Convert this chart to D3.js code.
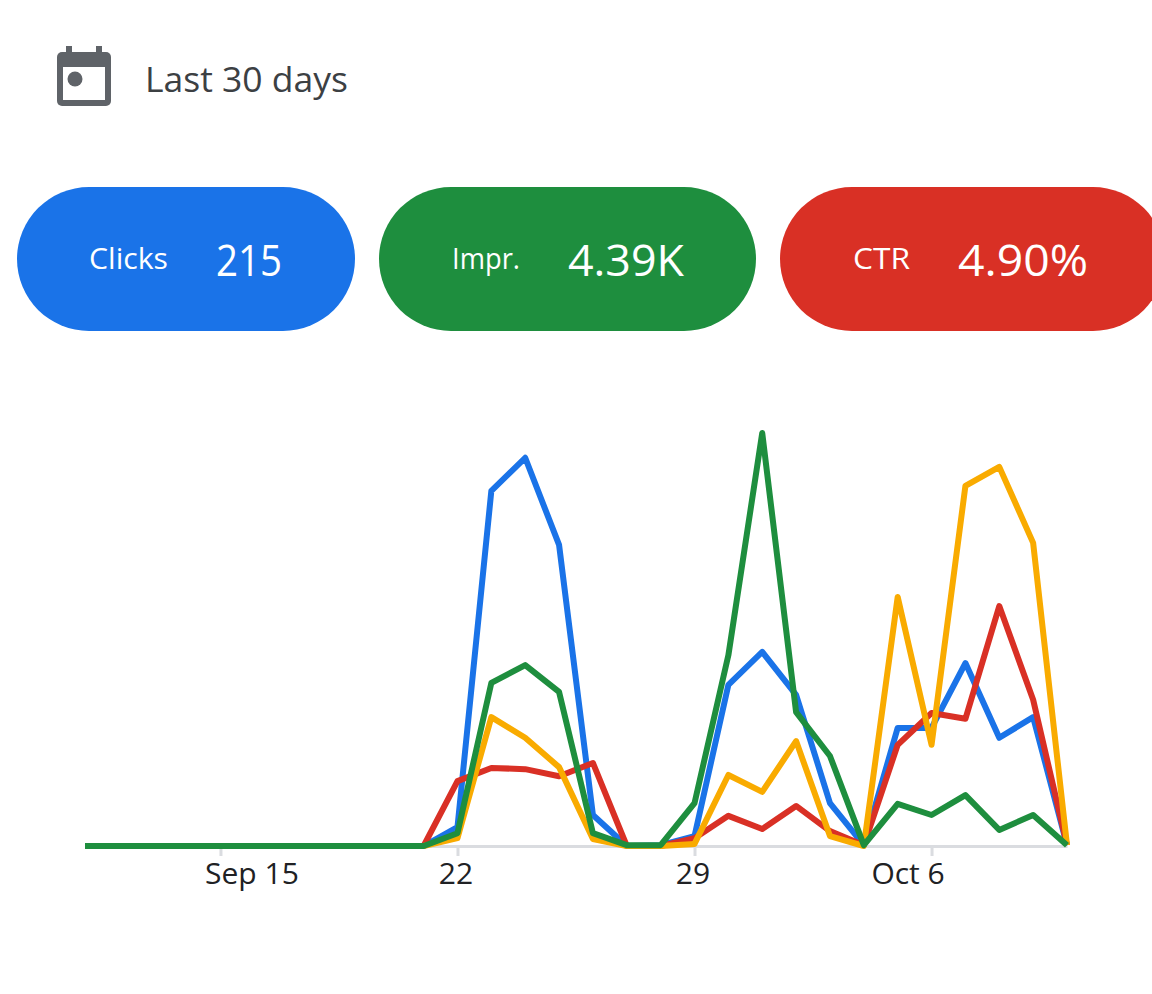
<!DOCTYPE html>
<html>
<head>
<meta charset="utf-8">
<script src="https://cdn.jsdelivr.net/npm/d3@7"></script>
<style>
  html, body { margin: 0; padding: 0; background: #fff; overflow: hidden; }
  text { font-family: "Open Sans", sans-serif; }
  .axis text { font-size: 30px; fill: #202124; }
</style>
</head>
<body>
<svg id="chart" width="1152" height="994"></svg>
<script>
// data (percent of the tallest peak)
var periodLabel = "Last 30 days";
var metricNames = ["Clicks", "Impr.", "CTR"];
var metricValues = ["215", "4.39K", "4.90%"];
var metricColors = ["#1a73e8", "#1e8e3e", "#d93025"];

var zeros = [0, 0, 0, 0, 0, 0, 0, 0, 0, 0];  // Sep 11 - Sep 20
var clicks = zeros.concat([0, 4.6, 86, 94, 72.9, 7.5, 0, 0.2, 2.4, 39, 47, 36.6, 10.4, 0.2, 28.6, 28.6, 44.3, 26.2, 31.2, 0.2]);
var ctr = zeros.concat([0, 15.7, 18.9, 18.6, 16.9, 20.1, 0, 0, 1.9, 7.3, 4.1, 9.7, 3.6, 0.2, 24.5, 32.2, 30.8, 58.1, 35.4, 0.2]);
var position = zeros.concat([0, 1.9, 31.2, 26.2, 19.1, 1.7, 0, 0, 0.5, 17.2, 13.1, 25.4, 2.4, 0, 60.3, 24.5, 87.2, 91.8, 73.4, 0.2]);
var impressions = zeros.concat([0, 3.1, 39.5, 43.8, 37.3, 3.1, 0.2, 0.2, 10.4, 46.2, 100, 32.4, 21.8, 0.2, 10.2, 7.5, 12.3, 3.9, 7.5, 0.2]);

var tickDates = [new Date(2024, 8, 15), new Date(2024, 8, 22), new Date(2024, 8, 29), new Date(2024, 9, 6)];
var tickLabels = ["Sep 15", "22", "29", "Oct 6"];

var svg = d3.select("#chart");

// calendar icon + period label
var icon = svg.append("g").attr("fill", "#5f6368");
icon.append("rect").attr("x", 57).attr("y", 52).attr("width", 54).attr("height", 54).attr("rx", 5);
icon.append("rect").attr("x", 66).attr("y", 46).attr("width", 6).attr("height", 8);
icon.append("rect").attr("x", 96).attr("y", 46).attr("width", 6).attr("height", 8);
icon.append("rect").attr("x", 63).attr("y", 67).attr("width", 42).attr("height", 33).attr("fill", "#fff");
icon.append("circle").attr("cx", 75).attr("cy", 79).attr("r", 7.5);

svg.append("text")
  .attr("x", 145).attr("y", 92)
  .attr("font-size", 34).attr("fill", "#3c4043")
  .attr("textLength", 203).attr("lengthAdjust", "spacingAndGlyphs")
  .text(periodLabel);

// metric pills
var pillLeft = [17, 379, 780];
var pillWidth = [338, 377, 385];
var nameX = [89, 452, 853];
var valueX = [216, 568, 958];
var nameWidth = [79, 68, 57];
var valueWidth = [66, 116, 130];

metricNames.forEach((name, i) => {
  svg.append("rect")
    .attr("x", pillLeft[i]).attr("y", 187)
    .attr("width", pillWidth[i]).attr("height", 144)
    .attr("rx", 72)
    .attr("fill", metricColors[i]);
  svg.append("text")
    .attr("x", nameX[i]).attr("y", 269)
    .attr("font-size", 29).attr("fill", "#fff")
    .attr("textLength", nameWidth[i]).attr("lengthAdjust", "spacingAndGlyphs")
    .text(name);
  svg.append("text")
    .attr("x", valueX[i]).attr("y", 276)
    .attr("font-size", 44).attr("fill", "#fff")
    .attr("textLength", valueWidth[i]).attr("lengthAdjust", "spacingAndGlyphs")
    .text(metricValues[i]);
});

// line chart
var days = d3.timeDay.range(new Date(2024, 8, 11), new Date(2024, 9, 11));
var x = d3.scaleTime().domain([days[0], days[days.length - 1]]).range([85, 1067]);
var y = d3.scaleLinear().domain([0, 100]).range([846, 433]);

var axis = d3.axisBottom(x)
  .tickValues(tickDates)
  .tickFormat((d, i) => tickLabels[i])
  .tickSize(10)
  .tickSizeOuter(0);

var axisG = svg.append("g")
  .attr("class", "axis")
  .attr("transform", "translate(0,846)")
  .call(axis);
axisG.select(".domain").attr("stroke", "#dadce0").attr("stroke-width", 3);
axisG.selectAll(".tick line").attr("stroke", "#dadce0").attr("stroke-width", 3);

// the labels sit off their ticks at both ends
var labelShift = [31, -2, -2, -24];
axisG.selectAll(".tick text")
  .attr("dy", 0)
  .attr("y", 38)
  .attr("dx", (d, i) => labelShift[i]);

var line = d3.line()
  .x((d, i) => x(days[i]))
  .y(d => y(d));

var series = [
  { values: clicks, color: "#1a73e8" },
  { values: ctr, color: "#d93025" },
  { values: position, color: "#f9ab00" },
  { values: impressions, color: "#1e8e3e" }
];

series.forEach((s) => {
  svg.append("path")
    .attr("d", line(s.values))
    .attr("fill", "none")
    .attr("stroke", s.color)
    .attr("stroke-width", 6)
    .attr("stroke-linejoin", "round");
});
</script>
</body>
</html>
